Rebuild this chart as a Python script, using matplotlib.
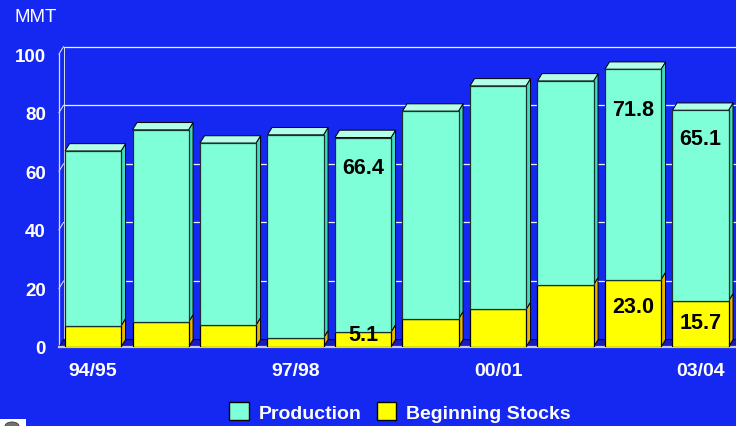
import numpy as np
import matplotlib.pyplot as plt
from matplotlib.patches import Polygon, Patch, Rectangle, Circle

# world wheat-ish balance: production stacked on beginning stocks (MMT)
seasons = ['94/95', '95/96', '96/97', '97/98', '98/99',
           '99/00', '00/01', '01/02', '02/03', '03/04']
stocks = [7.2, 8.5, 7.5, 3.1, 5.1, 9.6, 12.8, 21.2, 23.0, 15.7]
production = [59.7, 65.6, 62.1, 69.3, 66.4, 70.9, 76.3, 69.6, 71.8, 65.1]
yticks = [0, 20, 40, 60, 80, 100]
xtick_idx = [0, 3, 6, 9]

# value labels: (bar index, text, y position)
labels = [(4, '66.4', 61.4), (4, '5.1', 4.4),
          (8, '71.8', 80.9), (8, '23.0', 13.7),
          (9, '65.1', 71.3), (9, '15.7', 8.5)]

plt.rcParams['font.family'] = ['Liberation Sans', 'DejaVu Sans']

bg = '#1428F2'
aqua, aqua_top, aqua_side = '#7FFFD8', '#B4FFE8', '#40DCC0'
yel, yel_top, yel_side = '#FFFF00', '#FFFF80', '#E8B800'

fig = plt.figure(figsize=(7.36, 4.27), dpi=100, facecolor=bg)
ax = fig.add_axes([59/736, 79/427, 677/736, 293/427])
ax.set_facecolor('none')
x0, x1 = -0.504, 9.526
ax.set_xlim(x0, x1)
ax.set_ylim(0, 100)
for s in ax.spines.values():
    s.set_visible(False)

dx, dy = 0.067, 2.5   # depth offset of the 3d look
w = 0.83
x = np.arange(len(seasons))

# back wall gridlines and left wall
for v in yticks[1:]:
    ax.plot([x0 + dx, x1], [v + dy, v + dy], color='#EEF0FF', lw=0.9,
            zorder=1, clip_on=False)
    ax.plot([x0, x0 + dx], [v, v + dy], color='#EEF0FF', lw=0.7,
            zorder=1, clip_on=False)
ax.plot([x0, x0], [0, 100], color='#D8DCF0', lw=0.9, zorder=1, clip_on=False)
ax.plot([x0 + dx, x0 + dx], [dy, 100 + dy], color='#D8DCF0', lw=0.7,
        zorder=1, clip_on=False)

# floor
ax.add_patch(Polygon([(x0, 0), (x1, 0), (x1 + dx, dy), (x0 + dx, dy)],
                     closed=True, fc='#1A1AC0', ec='black', lw=0.6,
                     zorder=2, clip_on=False))
ax.plot([x0, x1], [0, 0], color='#C8C8D8', lw=1.6, zorder=2, clip_on=False)

# front faces
ax.bar(x, stocks, width=w, color=yel, edgecolor='black', lw=0.9, zorder=4)
ax.bar(x, production, bottom=stocks, width=w, color=aqua,
       edgecolor='#183030', lw=0.9, zorder=4)

# sides and tops
for i in range(len(seasons)):
    l, r = i - w/2, i + w/2
    b, m = 0, stocks[i]
    t = stocks[i] + production[i]
    ax.add_patch(Polygon([(r, b), (r + dx, b + dy), (r + dx, m + dy), (r, m)],
                         closed=True, fc=yel_side, ec='black', lw=0.7,
                         zorder=3, clip_on=False))
    ax.add_patch(Polygon([(r, m), (r + dx, m + dy), (r + dx, t + dy), (r, t)],
                         closed=True, fc=aqua_side, ec='black', lw=0.7,
                         zorder=3, clip_on=False))
    ax.add_patch(Polygon([(l, t), (r, t), (r + dx, t + dy), (l + dx, t + dy)],
                         closed=True, fc=aqua_top, ec='black', lw=0.7,
                         zorder=3, clip_on=False))

for i, s, y in labels:
    ax.text(i, y, s, ha='center', va='center', fontsize=15.5,
            fontweight='bold', color='black', zorder=10)

ax.set_yticks(yticks)
ax.set_xticks(xtick_idx, [seasons[i] for i in xtick_idx])
ax.tick_params(axis='y', length=0, colors='white', labelsize=13.5, pad=9.5)
ax.tick_params(axis='x', length=0, colors='white', labelsize=14, pad=11)
plt.setp(ax.get_xticklabels() + ax.get_yticklabels(), fontweight='bold')

fig.text(15/736, 1 - 17/427, 'MMT', ha='left', va='center',
         color='white', fontsize=13.5)

handles = [Patch(fc=aqua, ec='black'), Patch(fc=yel, ec='black')]
fig.legend(handles, ['Production', 'Beginning Stocks'], loc='center',
           bbox_to_anchor=(400/736, 1 - 413/427), ncol=2, frameon=False,
           prop={'weight': 'bold', 'size': 14}, labelcolor='white',
           handlelength=1.0, handleheight=1.0, handletextpad=0.5,
           columnspacing=0.8, borderaxespad=0)

# little logo stub in the corner
fig.patches.append(Rectangle((0, 0), 26/736, 7/427, transform=fig.transFigure,
                             fc='white', ec='none'))
fig.patches.append(Circle((12/736, 0), 7/736, transform=fig.transFigure,
                          fc='#707070', ec='#303030', lw=0.5))

fig.savefig('out.png', dpi=100, facecolor=bg)
